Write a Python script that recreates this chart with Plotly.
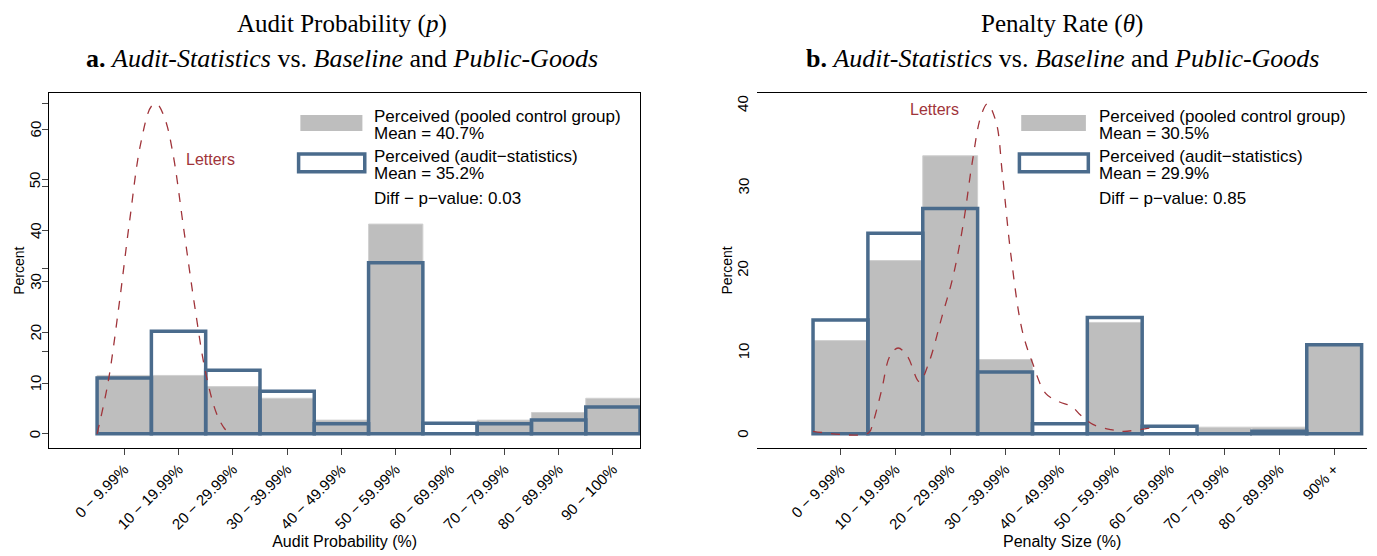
import plotly.graph_objects as go

bins_p = ["0 − 9.99%", "10 − 19.99%", "20 − 29.99%", "30 − 39.99%", "40 − 49.99%",
          "50 − 59.99%", "60 − 69.99%", "70 − 79.99%", "80 − 89.99%", "90 − 100%"]
bins_t = ["0 − 9.99%", "10 − 19.99%", "20 − 29.99%", "30 − 39.99%", "40 − 49.99%",
          "50 − 59.99%", "60 − 69.99%", "70 − 79.99%", "80 − 89.99%", "90% +"]

control_p = [11.5, 11.5, 9.3, 7.0, 2.7, 41.3, 0, 2.7, 4.2, 7.0]
audit_p = [11.0, 20.2, 12.5, 8.4, 2.0, 33.7, 2.1, 2.0, 2.7, 5.3]
control_t = [11.3, 21.0, 33.7, 9.0, 0, 13.5, 0, 0.8, 0.8, 10.7]
audit_t = [13.8, 24.3, 27.3, 7.5, 1.2, 14.1, 0.9, 0, 0.3, 10.8]

letters_p_x = [-0.5, -0.3, -0.1, 0.1, 0.3, 0.5, 0.6, 0.75, 0.9, 1.1, 1.3, 1.5, 1.7, 1.85, 1.95]
letters_p_y = [0, 10, 25, 42, 57, 64.5, 65, 62, 55, 40, 25, 12, 4, 1, 0]
letters_t_x = [-0.5, 0.51, 0.59, 0.75, 0.9, 1.05, 1.22, 1.44, 1.61, 1.85, 2.05, 2.24, 2.4, 2.56,
               2.68, 2.84, 2.95, 3.11, 3.31, 3.5, 3.74, 3.98, 4.22, 4.37, 4.61, 4.93, 5.16, 5.64]
letters_t_y = [0.3, 0.1, 1.3, 5.3, 9.4, 10.4, 9.4, 6.3, 8.6, 14.2, 19, 25.5, 32.8, 38.5,
               40, 37.7, 31.6, 21.5, 12.6, 8.6, 4.9, 3.9, 3.3, 2.3, 1.1, 0.5, 0.3, 0.7]

legend_p = ["Perceived (pooled control group)", "Mean = 40.7%", "Perceived (audit−statistics)",
            "Mean = 35.2%", "Diff − p−value: 0.03"]
legend_t = ["Perceived (pooled control group)", "Mean = 30.5%", "Perceived (audit−statistics)",
            "Mean = 29.9%", "Diff − p−value: 0.85"]

GREY = "#bebebe"
BLUE = "#4a6b8c"
RED = "#a0343a"
SANS = "Liberation Sans"
SERIF = "Liberation Serif"

fig = go.Figure()
idx = list(range(10))
for (xa, ya, ctrl, aud, lx, ly) in [("x", "y", control_p, audit_p, letters_p_x, letters_p_y),
                                    ("x2", "y2", control_t, audit_t, letters_t_x, letters_t_y)]:
    fig.add_trace(go.Bar(x=idx, y=ctrl, width=1, marker=dict(color=GREY, line=dict(color="#d0d0d0", width=1)),
                         xaxis=xa, yaxis=ya, showlegend=False))
    fig.add_trace(go.Bar(x=idx, y=aud, width=1, marker=dict(color="rgba(0,0,0,0)", line=dict(color=BLUE, width=3.5)),
                         xaxis=xa, yaxis=ya, showlegend=False))
    fig.add_trace(go.Scatter(x=lx, y=ly, mode="lines", line=dict(color=RED, width=1.3, dash="dash", shape="spline"),
                             xaxis=xa, yaxis=ya, showlegend=False))

ax = dict(showline=True, linecolor="black", linewidth=1, mirror=True, showgrid=False, zeroline=False,
          automargin=False, ticks="outside", ticklen=6, tickangle=-45,
          tickfont=dict(family=SANS, size=15, color="black"),
          title_font=dict(family=SANS, size=16, color="black"))
ay = dict(showline=True, linecolor="black", linewidth=1, mirror=True, showgrid=False, zeroline=False,
          automargin=False, ticks="outside", ticklen=6, showticklabels=False)

fig.update_layout(
    width=1377, height=556, margin=dict(l=0, r=0, t=0, b=0, autoexpand=False),
    plot_bgcolor="white", paper_bgcolor="white", barmode="overlay",
    xaxis=dict(ax, domain=[0.03, 0.459], range=[-1.38, 9.5], tickvals=idx, ticktext=bins_p,
               title=dict(text="Audit Probability (%)", standoff=2)),
    yaxis=dict(ay, domain=[0.209, 0.847], range=[-2.75, 67.1], tickvals=[0, 10, 20, 30, 40, 50, 60]),
    xaxis2=dict(ax, domain=[0.544, 0.987], range=[-1.52, 9.6], tickvals=idx, ticktext=bins_t,
                title=dict(text="Penalty Size (%)", standoff=2)),
    yaxis2=dict(ay, domain=[0.209, 0.847], range=[-1.7, 41.3], tickvals=[0, 10, 20, 30, 40]),
)

ann = []
shapes = []
for (xa, ya, ticks, leg, gx, tx, lt, d) in [("x", "y", [0, 10, 20, 30, 40, 50, 60], legend_p, (0.425, 0.53), 0.546, (1.1, 54, "left"), 591),
                                            ("x2", "y2", [0, 10, 20, 30, 40], legend_t, (0.433, 0.539), 0.557, (2.2, 39.3, "right"), 610)]:
    for t in ticks:
        ann.append(dict(xref=xa + " domain", yref=ya, x=-14 / d, y=t, text=str(t), showarrow=False,
                        textangle=-90, xanchor="center", yanchor="middle", font=dict(family=SANS, size=15, color="black")))
    ann.append(dict(xref=xa + " domain", yref=ya + " domain", x=-30 / d, y=0.5, text="Percent", showarrow=False,
                    textangle=-90, xanchor="center", yanchor="middle", font=dict(family=SANS, size=14, color="black")))
    ann.append(dict(xref=xa, yref=ya, x=lt[0], y=lt[1], text="Letters", showarrow=False, xanchor=lt[2],
                    font=dict(family=SANS, size=16, color=RED)))
    shapes.append(dict(type="rect", xref=xa + " domain", yref=ya + " domain", x0=gx[0], x1=gx[1],
                       y0=0.893, y1=0.938, fillcolor=GREY, line=dict(width=0)))
    shapes.append(dict(type="rect", xref=xa + " domain", yref=ya + " domain", x0=gx[0] - 0.003, x1=gx[1] + 0.004,
                       y0=0.778, y1=0.828, fillcolor="white", line=dict(color=BLUE, width=3.5)))
    for text, y in zip(leg, [0.935, 0.887, 0.82, 0.772, 0.704]):
        ann.append(dict(xref=xa + " domain", yref=ya + " domain", x=tx, y=y, text=text, showarrow=False,
                        xanchor="left", yanchor="middle", font=dict(family=SANS, size=17, color="black")))

for (cx, t1, t2) in [(0.2426, "Audit Probability (<i>p</i>)", "<b>a.</b>"), (0.7655, "Penalty Rate (<i>θ</i>)", "<b>b.</b>")]:
    ann.append(dict(xref="paper", yref="paper", x=cx, y=0.972, text=t1, showarrow=False,
                    xanchor="center", yanchor="middle", font=dict(family=SERIF, size=25, color="black")))
    ann.append(dict(xref="paper", yref="paper", x=cx, y=0.91,
                    text=t2 + " <i>Audit-Statistics</i> vs. <i>Baseline</i> and <i>Public-Goods</i>", showarrow=False,
                    xanchor="center", yanchor="middle", font=dict(family=SERIF, size=26, color="black")))

fig.update_layout(annotations=ann, shapes=shapes)
fig.write_html("out.html")
